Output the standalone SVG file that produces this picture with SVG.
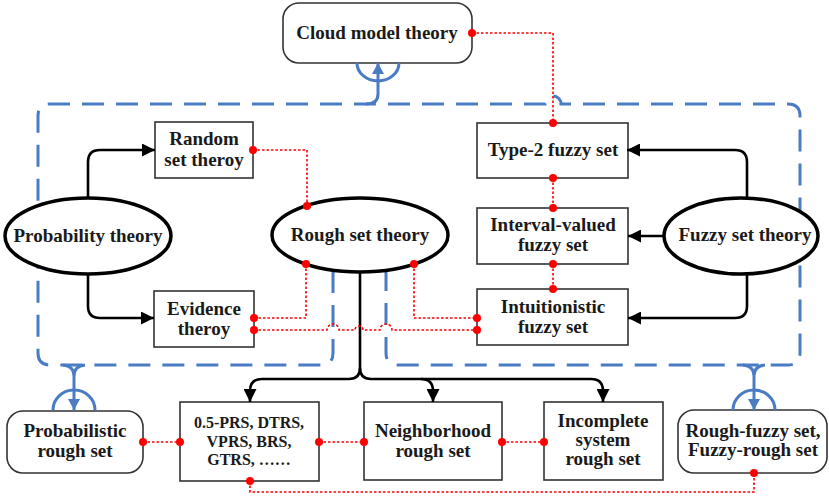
<svg xmlns="http://www.w3.org/2000/svg" width="829" height="496" viewBox="0 0 829 496">
<style>
text{font-family:"Liberation Serif","Times New Roman",serif;font-weight:bold;font-size:19px;fill:#1a1a1a;text-anchor:middle}
.small{font-size:16px}
.box{fill:#fff;stroke:#333;stroke-width:1.6}
.ell{fill:#fff;stroke:#000;stroke-width:3.5}
.blk{fill:none;stroke:#000;stroke-width:2.6}
.red{fill:none;stroke:#f00;stroke-width:1.6;stroke-dasharray:2.5 2}
.blue{fill:none;stroke:#4a7cc4;stroke-width:3}
.dash{fill:none;stroke:#4a7cc4;stroke-width:3;stroke-dasharray:22 12}
.dot{fill:#f00}
</style>
<defs>
<marker id="ab" markerUnits="userSpaceOnUse" markerWidth="14" markerHeight="13" refX="13" refY="6.5" orient="auto"><path d="M0,0 L13,6.5 L0,13 z" fill="#000"/></marker>
<marker id="abl" markerUnits="userSpaceOnUse" markerWidth="12" markerHeight="12" refX="11" refY="6" orient="auto"><path d="M0,0 L11,6 L0,12 z" fill="#4a7cc4"/></marker>
</defs>
<rect width="829" height="496" fill="#fff"/>

<g id="region">
<path class="dash" d="M333,271 V353 Q333,365 321,365 H50 Q38,365 38,353 V116 Q38,104 50,104 H545 A8,8 0 0 1 561,104 H788 Q800,104 800,116 V353 Q800,365 788,365 H398 Q386,365 386,353 V271"/>
</g>

<g id="cloud">
<rect class="box" x="283" y="3" width="189" height="60" rx="16"/>
<text x="377" y="39">Cloud model theory</text>
</g>
<g id="probability">
<ellipse class="ell" cx="88" cy="236" rx="83" ry="38"/>
<text x="88" y="242">Probability theory</text>
</g>
<g id="rough">
<ellipse class="ell" cx="360" cy="235" rx="88" ry="37"/>
<text x="360" y="241">Rough set theory</text>
</g>
<g id="fuzzy">
<ellipse class="ell" cx="741" cy="236" rx="77" ry="38"/>
<text x="745" y="241">Fuzzy set theory</text>
</g>
<g id="random">
<rect class="box" x="155" y="122" width="98" height="56"/>
<text x="204" y="145">Random</text>
<text x="204" y="166">set theroy</text>
</g>
<g id="evidence">
<rect class="box" x="154" y="291" width="100" height="56"/>
<text x="204" y="315">Evidence</text>
<text x="204" y="335">theroy</text>
</g>
<g id="type2">
<rect class="box" x="477" y="123" width="151" height="55"/>
<text x="553" y="156">Type-2 fuzzy set</text>
</g>
<g id="interval">
<rect class="box" x="477" y="208" width="151" height="56"/>
<text x="553" y="231">Interval-valued</text>
<text x="553" y="251">fuzzy set</text>
</g>
<g id="intuitionistic">
<rect class="box" x="477" y="289" width="151" height="56"/>
<text x="553" y="313">Intuitionistic</text>
<text x="553" y="333">fuzzy set</text>
</g>
<g id="probabilistic">
<rect class="box" x="7" y="411" width="136" height="62" rx="16"/>
<text x="75" y="437">Probabilistic</text>
<text x="75" y="457">rough set</text>
</g>
<g id="prs">
<rect class="box" x="180" y="402" width="139" height="79"/>
<text class="small" x="249" y="428">0.5-PRS, DTRS,</text>
<text class="small" x="249" y="446.5">VPRS, BRS,</text>
<text class="small" x="249" y="465">GTRS, ……</text>
</g>
<g id="neighborhood">
<rect class="box" x="364" y="402" width="138" height="78"/>
<text x="433" y="437">Neighborhood</text>
<text x="433" y="457">rough set</text>
</g>
<g id="incomplete">
<rect class="box" x="544" y="402" width="119" height="78"/>
<text x="603" y="427">Incomplete</text>
<text x="603" y="446">system</text>
<text x="603" y="465">rough set</text>
</g>
<g id="roughfuzzy">
<rect class="box" x="678" y="410" width="149" height="63" rx="16"/>
<text x="753" y="437">Rough-fuzzy set,</text>
<text x="753" y="456">Fuzzy-rough set</text>
</g>

<g id="connectors">
<!-- black arrows -->
<path class="blk" marker-end="url(#ab)" d="M88,198 V162 Q88,150 100,150 H155"/>
<path class="blk" marker-end="url(#ab)" d="M88,274 V306 Q88,318 100,318 H154"/>
<path class="blk" marker-end="url(#ab)" d="M747,198 V162 Q747,150 735,150 H627"/>
<path class="blk" marker-end="url(#ab)" d="M664,236 H628"/>
<path class="blk" marker-end="url(#ab)" d="M747,274 V306 Q747,318 735,318 H628"/>
<path class="blk" d="M360,272 V368"/>
<path class="blk" marker-end="url(#ab)" d="M360,368 Q360,379 349,379 H262 Q250,379 250,391 V402"/>
<path class="blk" marker-end="url(#ab)" d="M360,368 Q360,379 371,379 H591 Q603,379 603,391 V402"/>
<path class="blk" marker-end="url(#ab)" d="M421,379 Q433,379 433,391 V402"/>
<!-- blue connectors -->
<path class="blue" marker-end="url(#abl)" d="M366,104 Q378,104 378,94 V63"/>
<path class="blue" d="M357,63 A21,18 0 0 0 399,63"/>
<path class="blue" d="M63,365 Q74,366 74,376 M85,365 Q74,366 74,376"/>
<path class="blue" marker-end="url(#abl)" d="M74,376 V410"/>
<path class="blue" d="M53,410 A21,20 0 0 1 95,410"/>
<path class="blue" d="M743,365 Q754,366 754,376 M765,365 Q754,366 754,376"/>
<path class="blue" marker-end="url(#abl)" d="M754,376 V410"/>
<path class="blue" d="M733,410 A21,20 0 0 1 775,410"/>
<!-- red dotted -->
<path class="red" d="M472,33 H553 V123"/>
<path class="red" d="M253,150 H307 V206"/>
<path class="red" d="M254,318 H306 V264"/>
<path class="red" d="M254,330 H327 A6,6 0 0 1 339,330 H355 A4,4 0 0 1 363,330 H380 A6,6 0 0 1 392,330 H477"/>
<path class="red" d="M414,264 V318 H477"/>
<path class="red" d="M553,178 V208"/>
<path class="red" d="M553,264 V289"/>
<path class="red" d="M143,442 H180"/>
<path class="red" d="M319,442 H364"/>
<path class="red" d="M502,442 H544"/>
<path class="red" d="M250,481 V492 H754 V473"/>
<g>
<circle class="dot" cx="472" cy="33" r="4"/>
<circle class="dot" cx="553" cy="123" r="4"/>
<circle class="dot" cx="253" cy="150" r="4"/>
<circle class="dot" cx="307" cy="206" r="4"/>
<circle class="dot" cx="254" cy="318" r="4"/>
<circle class="dot" cx="306" cy="264" r="4"/>
<circle class="dot" cx="254" cy="330" r="4"/>
<circle class="dot" cx="477" cy="330" r="4"/>
<circle class="dot" cx="414" cy="264" r="4"/>
<circle class="dot" cx="477" cy="318" r="4"/>
<circle class="dot" cx="553" cy="178" r="4"/>
<circle class="dot" cx="553" cy="208" r="4"/>
<circle class="dot" cx="553" cy="264" r="4"/>
<circle class="dot" cx="553" cy="289" r="4"/>
<circle class="dot" cx="143" cy="442" r="4"/>
<circle class="dot" cx="180" cy="442" r="4"/>
<circle class="dot" cx="319" cy="442" r="4"/>
<circle class="dot" cx="364" cy="442" r="4"/>
<circle class="dot" cx="502" cy="442" r="4"/>
<circle class="dot" cx="544" cy="442" r="4"/>
<circle class="dot" cx="250" cy="481" r="4"/>
<circle class="dot" cx="754" cy="473" r="4"/>
</g>
</g>
</svg>
